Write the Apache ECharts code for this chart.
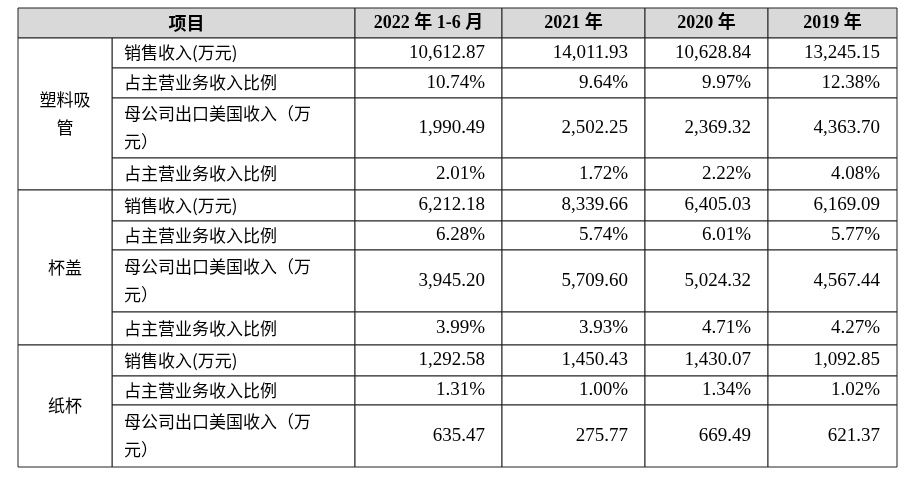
<!DOCTYPE html>
<html><head><meta charset="utf-8">
<script src="https://cdn.jsdelivr.net/npm/echarts@6/dist/echarts.min.js"></script>
<style>html,body{margin:0;padding:0;background:#fff}#c{width:908px;height:480px}</style>
</head><body><div id="c"></div>
<script>
const headers = ['项目', '2022 年 1-6 月', '2021 年', '2020 年', '2019 年'];
const groups = ['塑料吸\n管', '杯盖', '纸杯'];
const items = [
  ['销售收入(万元)', '占主营业务收入比例', '母公司出口美国收入（万\n元）', '占主营业务收入比例'],
  ['销售收入(万元)', '占主营业务收入比例', '母公司出口美国收入（万\n元）', '占主营业务收入比例'],
  ['销售收入(万元)', '占主营业务收入比例', '母公司出口美国收入（万\n元）']
];
const y2022 = ['10,612.87','10.74%','1,990.49','2.01%','6,212.18','6.28%','3,945.20','3.99%','1,292.58','1.31%','635.47'];
const y2021 = ['14,011.93','9.64%','2,502.25','1.72%','8,339.66','5.74%','5,709.60','3.93%','1,450.43','1.00%','275.77'];
const y2020 = ['10,628.84','9.97%','2,369.32','2.22%','6,405.03','6.01%','5,024.32','4.71%','1,430.07','1.34%','669.49'];
const y2019 = ['13,245.15','12.38%','4,363.70','4.08%','6,169.09','5.77%','4,567.44','4.27%','1,092.85','1.02%','621.37'];

// layout
const colX = [18, 112, 355, 502, 645, 768, 897];
const headTop = 8, headBot = 38;
const rowH = [30,30,60,32, 31,29,62,33, 31,29,62];
const cjk = '"Noto Sans CJK SC"', serif = '"Liberation Serif", "Noto Sans CJK SC"';

const rowY = [headBot];
rowH.forEach(h => rowY.push(rowY[rowY.length-1] + h));
const cells = [];
headers.forEach((h, i) => {
  const x0 = i === 0 ? colX[0] : colX[i+1], x1 = i === 0 ? colX[2] : colX[i+2];
  cells.push([x0, x1, headTop, headBot, h, 'center', '#d9d9d9', 'bold', i === 0 ? cjk : serif, 18]);
});
let r = 0;
const years = [y2022, y2021, y2020, y2019];
groups.forEach((g, gi) => {
  const start = r;
  items[gi].forEach(it => {
    cells.push([colX[1], colX[2], rowY[r], rowY[r+1], it, 'left', null, 'normal', cjk, 17]);
    years.forEach((ys, yi) => {
      cells.push([colX[yi+2], colX[yi+3], rowY[r], rowY[r+1], ys[r], 'right', null, 'normal', serif, 19]);
    });
    r++;
  });
  cells.push([colX[0], colX[1], rowY[start], rowY[r], g, 'center', null, 'normal', cjk, 17]);
});

const chart = echarts.init(document.getElementById('c'));
chart.setOption({
  animation: false,
  grid: {left: 0, right: 0, top: 0, bottom: 0},
  xAxis: {type: 'value', min: 0, max: 908, show: false},
  yAxis: {type: 'value', min: 0, max: 480, inverse: true, show: false},
  series: [{
    type: 'custom',
    data: cells.map((c, i) => [c[0], c[1], c[2], c[3], i]),
    renderItem: function (params, api) {
      const c = cells[api.value(4)];
      const p0 = api.coord([c[0], c[2]]), p1 = api.coord([c[1], c[3]]);
      const w = p1[0] - p0[0], h = p1[1] - p0[1];
      let tx, align;
      if (c[5] === 'left') { tx = p0[0] + 12; align = 'left'; }
      else if (c[5] === 'right') { tx = p1[0] - 17; align = 'right'; }
      else { tx = p0[0] + w/2; align = 'center'; }
      return {
        type: 'group',
        children: [
          {type: 'rect', shape: {x: p0[0], y: p0[1], width: w, height: h},
           style: {fill: c[6] || '#fff', stroke: '#222', lineWidth: 1}},
          {type: 'text', style: {x: tx, y: p0[1] + h/2, text: c[4], align: align, verticalAlign: 'middle',
            fontSize: c[9], fontWeight: c[7], fontFamily: c[8], fill: '#000', lineHeight: 28}}
        ]
      };
    }
  }]
});
</script></body></html>
